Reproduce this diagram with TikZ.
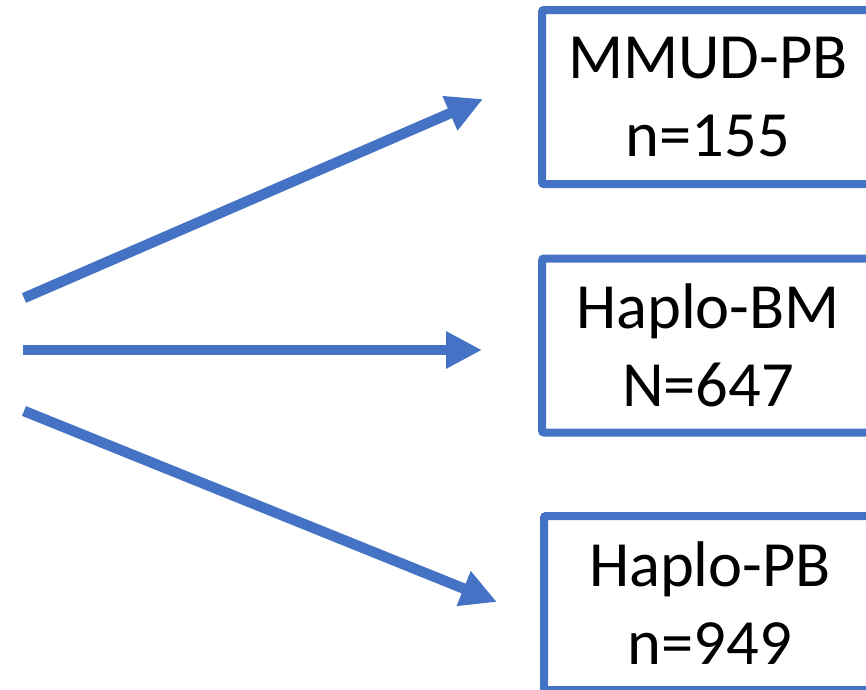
\documentclass[tikz,border=0pt]{standalone}
\usepackage{fontspec}
\setmainfont{Carlito}
\usetikzlibrary{arrows.meta}
\definecolor{obl}{HTML}{4472C4}
\begin{document}
\begin{tikzpicture}[x=1pt,y=-1pt,
  box/.style={draw=obl, line width=8pt, rounded corners=2pt, minimum width=332pt,
    minimum height=174pt, inner sep=0pt, align=center,
    font=\fontsize{64.5}{78}\selectfont, text=black},
  arr/.style={draw=obl, line width=10.5pt,
    -{Triangle[length=36pt,width=35pt]}}]
\useasboundingbox (0,0) rectangle (866,689);
\clip (0,0) rectangle (866,689);
\node[box] (b1) at (708,97) {MMUD-PB\\n=155};
\node[box] (b2) at (708,345.5) {Haplo-BM\\N=647};
\node[box] (b3) at (710,603) {Haplo-PB\\n=949};
\coordinate (s1) at (24,298);
\coordinate (t1) at (483,99);
\coordinate (s2) at (23,350);
\coordinate (t2) at (482,350);
\coordinate (s3) at (24,411);
\coordinate (t3) at (497,602);
\draw[arr] (s1) -- (t1);
\draw[arr] (s2) -- (t2);
\draw[arr] (s3) -- (t3);
\end{tikzpicture}
\end{document}
